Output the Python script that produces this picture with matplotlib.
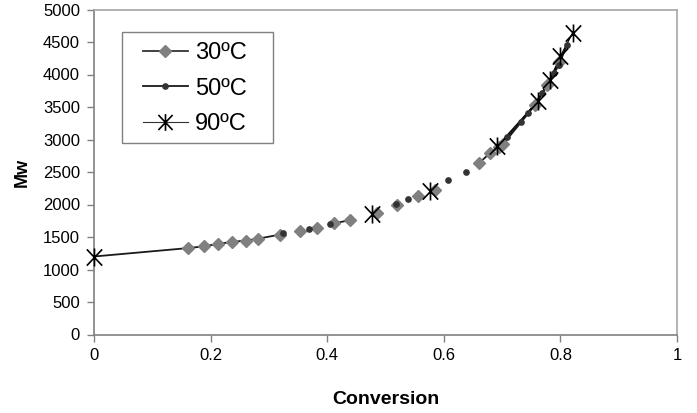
import matplotlib
matplotlib.use("Agg")
import matplotlib.pyplot as plt
from matplotlib.lines import Line2D
from matplotlib.path import Path
from matplotlib.patches import Rectangle

# ---- data ----
conv_30 = [0.0, 0.162, 0.189, 0.213, 0.236, 0.260, 0.282, 0.319, 0.353, 0.383, 0.412,
           0.439, 0.485, 0.520, 0.556, 0.585, 0.661, 0.679, 0.695, 0.702, 0.756, 0.777, 0.798]
mw_30 = [1200, 1330, 1357, 1393, 1424, 1445, 1475, 1537, 1600, 1640, 1710,
         1760, 1870, 2000, 2125, 2230, 2640, 2790, 2880, 2930, 3525, 3845, 4200]

conv_50 = [0.325, 0.368, 0.405, 0.518, 0.538, 0.608, 0.638, 0.708, 0.732, 0.745,
           0.769, 0.789, 0.798, 0.811]
mw_50 = [1560, 1630, 1705, 2010, 2085, 2370, 2500, 3035, 3270, 3415,
         3715, 4020, 4150, 4460]

conv_90 = [0.0, 0.476, 0.576, 0.692, 0.761, 0.782, 0.800, 0.821]
mw_90 = [1200, 1850, 2215, 2900, 3590, 3920, 4280, 4640]

series_labels = ["30ºC", "50ºC", "90ºC"]
x_ticks = [0, 0.2, 0.4, 0.6, 0.8, 1]
x_tick_labels = ["0", "0.2", "0.4", "0.6", "0.8", "1"]
y_ticks = [0, 500, 1000, 1500, 2000, 2500, 3000, 3500, 4000, 4500, 5000]
x_label = "Conversion"
y_label = "Mw"

# visible line pieces (index ranges) in the reference
seg_30 = [(0, 7), (10, 11), (16, 22)]
seg_50 = [(7, 13)]
seg_90 = [(3, 7)]

plt.rcParams['font.family'] = ['Liberation Sans', 'DejaVu Sans']

W, H = 697, 413
fig = plt.figure(figsize=(W / 100, H / 100), dpi=100)
ax = fig.add_axes([94 / W, 1 - 334.5 / H, (677 - 94) / W, (334.5 - 9.5) / H])

# Excel-like star marker: X plus vertical bar
star_path = Path(
    [(-0.85, -0.9), (0.85, 0.9), (-0.85, 0.9), (0.85, -0.9), (0, -1), (0, 1)],
    [Path.MOVETO, Path.LINETO, Path.MOVETO, Path.LINETO, Path.MOVETO, Path.LINETO])

c30 = "#808080"
c50 = "#333333"
st30 = dict(marker="D", markersize=6.3, markerfacecolor=c30, markeredgecolor=c30)
st50 = dict(marker="o", markersize=3.8, markerfacecolor=c50, markeredgecolor=c50)
st90 = dict(marker=star_path, markersize=13, markeredgecolor="black",
            markerfacecolor="none", markeredgewidth=1.2)

# 30 C
for a, b in seg_30:
    ax.plot(conv_30[a:b + 1], mw_30[a:b + 1], color="#1a1a1a", lw=1.3, zorder=2)
ax.plot(conv_30[1:], mw_30[1:], linestyle="none", zorder=3, **st30)
# 50 C
for a, b in seg_50:
    ax.plot(conv_50[a:b + 1], mw_50[a:b + 1], color="#1a1a1a", lw=1.3, zorder=2)
ax.plot(conv_50, mw_50, linestyle="none", zorder=4, **st50)
# 90 C
for a, b in seg_90:
    ax.plot(conv_90[a:b + 1], mw_90[a:b + 1], color="black", lw=0.9, zorder=2)
ax.plot(conv_90, mw_90, linestyle="none", zorder=5, clip_on=False, **st90)

ax.set_xlim(0, 1)
ax.set_ylim(0, 5000)
ax.set_xticks(x_ticks)
ax.set_xticklabels(x_tick_labels)
ax.set_yticks(y_ticks)
ax.tick_params(axis="both", direction="out", length=5, width=1, color="#808080",
               labelsize=12, labelcolor="black", pad=5)
for side in ["left", "bottom"]:
    ax.spines[side].set_color("#808080")
    ax.spines[side].set_linewidth(1.2)
for side in ["top", "right"]:
    ax.spines[side].set_color("#a6a6a6")
    ax.spines[side].set_linewidth(1.2)

ax.set_xlabel(x_label, fontsize=14, fontweight="bold", labelpad=20)
ax.set_ylabel(y_label, fontsize=13, fontweight="bold", labelpad=9)

handles = [
    Line2D([], [], color="#333333", lw=1.3, **st30),
    Line2D([], [], color="#1a1a1a", lw=1.3, **st50),
    Line2D([], [], color="#333333", lw=0.8, **dict(st90, markersize=12)),
]
leg = ax.legend(handles, series_labels, loc="upper left",
                bbox_to_anchor=(143 / W, 1 - 42 / H), bbox_transform=fig.transFigure,
                borderaxespad=0, borderpad=0, fontsize=17, frameon=False,
                handlelength=1.9, handletextpad=0.3, labelspacing=0.58)

# legend frame
fig.patches.append(Rectangle((122 / W, 1 - 143 / H), (273 - 122) / W, (143 - 32) / H,
                             transform=fig.transFigure, fill=False,
                             edgecolor="#808080", linewidth=1.0, zorder=1))

fig.savefig("out.png", dpi=100)
